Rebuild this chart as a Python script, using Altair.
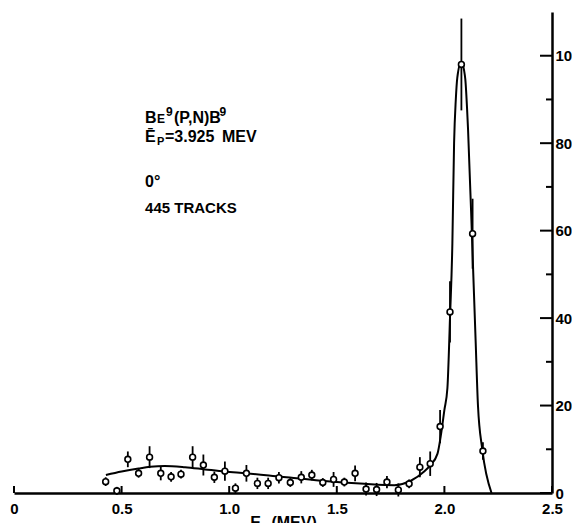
import altair as alt
import pandas as pd

# measured points (neutron energy in MeV, relative counts, error half-length)
energy = [0.426, 0.478, 0.529, 0.579, 0.630, 0.682, 0.730, 0.776, 0.830, 0.880,
          0.931, 0.980, 1.029, 1.080, 1.131, 1.181, 1.231, 1.284, 1.335, 1.384,
          1.435, 1.485, 1.535, 1.585, 1.636, 1.685, 1.733, 1.786, 1.836, 1.886,
          1.934, 1.980, 2.026, 2.079, 2.131, 2.179]
counts = [2.6, 0.5, 7.7, 4.5, 8.2, 4.5, 3.7, 4.3, 8.2, 6.4,
          3.6, 5.0, 1.1, 4.5, 2.2, 2.2, 3.5, 2.4, 3.6, 4.1,
          2.4, 3.1, 2.5, 4.5, 0.9, 0.8, 2.5, 0.7, 2.1, 5.9,
          6.7, 15.2, 41.4, 98.0, 59.3, 9.6]
errors = [1.0, 0.9, 1.8, 1.0, 2.5, 1.6, 1.1, 1.0, 2.5, 2.4,
          1.3, 2.2, 1.1, 1.9, 1.3, 1.3, 1.3, 1.0, 1.4, 1.2,
          1.0, 1.7, 1.0, 1.8, 1.5, 1.5, 1.4, 1.5, 1.0, 2.3,
          2.8, 3.8, 7.0, 10.5, 8.0, 2.0]

# hand-drawn smooth curve
curve_e = [0.427, 0.50, 0.579, 0.633, 0.70, 0.795, 0.887, 0.98, 1.08, 1.242,
           1.427, 1.628, 1.767, 1.844, 1.906, 1.934, 1.968, 1.983, 2.0, 2.014,
           2.026, 2.037, 2.045, 2.053, 2.060, 2.078, 2.092, 2.097, 2.110, 2.130,
           2.145, 2.156, 2.176, 2.219]
curve_c = [4.1, 4.9, 5.6, 6.0, 6.2, 5.9, 5.4, 4.9, 4.5, 3.7,
           2.8, 2.1, 1.8, 2.8, 4.9, 6.3, 9.0, 13.0, 19.0, 24.0,
           40.0, 57.0, 80.0, 90.0, 95.0, 98.5, 96.5, 94.7, 83.0, 56.0,
           35.0, 20.0, 10.0, 0.0]

x_ticks = [0, 0.5, 1.0, 1.5, 2.0, 2.5]
y_major = [0, 20, 40, 60, 80, 100]
y_minor = [10, 30, 50, 70, 90]

# annotation pieces (text, energy, count, font size) — built from pieces so the
# small-cap E, superscripts and subscript sit like the lettering in the original
note_text = ["B", "E", "9", "(P,N)B", "9",
             "Ē", "P", "=3.925", "MEV",
             "0°", "445 TRACKS"]
note_x = [0.609, 0.6645, 0.706, 0.7435, 0.955,
          0.609, 0.6645, 0.7017, 0.9665,
          0.609, 0.609]
note_y = [84.6, 84.6, 86.2, 84.6, 86.2,
          80.3, 79.6, 80.3, 80.3,
          70.0, 64.0]
note_fs = [16, 12, 12, 16, 12,
           16, 11, 16, 16,
           16, 15]

W, H = 538, 481
FONT = "Liberation Sans"

pts = pd.DataFrame({"E": energy, "N": counts, "err": errors})
pts["lo"] = pts["N"] - pts["err"]
pts["hi"] = pts["N"] + pts["err"]
cur = pd.DataFrame({"E": curve_e, "N": curve_c})
xt = pd.DataFrame({"E": x_ticks})
ymaj = pd.DataFrame({"N": y_major})
ymin = pd.DataFrame({"N": y_minor})
nt = pd.DataFrame({"t": note_text, "E": note_x, "N": note_y, "fs": note_fs})

xs = alt.Scale(domain=[0, 2.5], nice=False, zero=False)
ys = alt.Scale(domain=[0, 110], nice=False)

x_axis = alt.Axis(values=x_ticks, ticks=False, grid=False,
                  labelExpr="datum.value == 0 ? '0' : format(datum.value, '.1f')",
                  labelFont=FONT, labelFontSize=15, labelFontWeight="bold",
                  labelColor="black", labelPadding=8, labelFlush=False,
                  domainColor="black", domainWidth=2.5,
                  title="Eₙ (MEV)", titleFont=FONT, titleFontSize=16,
                  titleFontWeight="bold", titleColor="black", titlePadding=-2)
y_axis = alt.Axis(orient="right", values=y_major, ticks=False, grid=False,
                  labelFont=FONT, labelFontSize=15, labelFontWeight="bold",
                  labelColor="black", labelPadding=3, labelFlush=False,
                  domainColor="black", domainWidth=2.5, title=None)

curve = alt.Chart(cur).mark_line(color="black", strokeWidth=2,
                                 interpolate="monotone").encode(
    x=alt.X("E:Q", scale=xs, axis=x_axis),
    y=alt.Y("N:Q", scale=ys, axis=y_axis),
)

bars = alt.Chart(pts).mark_rule(color="black", strokeWidth=1.8).encode(
    x=alt.X("E:Q", scale=xs, axis=x_axis),
    y=alt.Y("lo:Q", scale=ys, axis=y_axis),
    y2="hi:Q",
)

points = alt.Chart(pts).mark_point(shape="circle", size=34, filled=True,
                                   fill="white", stroke="black",
                                   strokeWidth=1.6, opacity=1).encode(
    x=alt.X("E:Q", scale=xs, axis=x_axis),
    y=alt.Y("N:Q", scale=ys, axis=y_axis),
)

xtick = alt.Chart(xt).mark_rule(color="black", strokeWidth=2).encode(
    x=alt.X("E:Q", scale=xs, axis=x_axis),
    y=alt.value(H),
    y2=alt.value(H - 7),
)

ytick_major = alt.Chart(ymaj).mark_rule(color="black", strokeWidth=2).encode(
    y=alt.Y("N:Q", scale=ys, axis=y_axis),
    x=alt.value(W - 12),
    x2=alt.value(W),
)

ytick_minor = alt.Chart(ymin).mark_rule(color="black", strokeWidth=2).encode(
    y=alt.Y("N:Q", scale=ys, axis=y_axis),
    x=alt.value(W - 6),
    x2=alt.value(W),
)

text = alt.Chart(nt).mark_text(align="left", baseline="alphabetic",
                               font=FONT, fontWeight="bold",
                               color="black").encode(
    x=alt.X("E:Q", scale=xs, axis=x_axis),
    y=alt.Y("N:Q", scale=ys, axis=y_axis),
    text="t:N",
    size=alt.Size("fs:Q", scale=None, legend=None),
)

chart = alt.layer(curve, bars, points, xtick, ytick_major, ytick_minor, text).properties(
    width=W, height=H,
    autosize=alt.AutoSizeParams(type="none"),
    padding={"left": 6, "top": 4, "right": 20, "bottom": 30},
    background="white",
).configure_view(stroke=None)

chart.save("out.html", embed_options={"renderer": "svg", "actions": False})
